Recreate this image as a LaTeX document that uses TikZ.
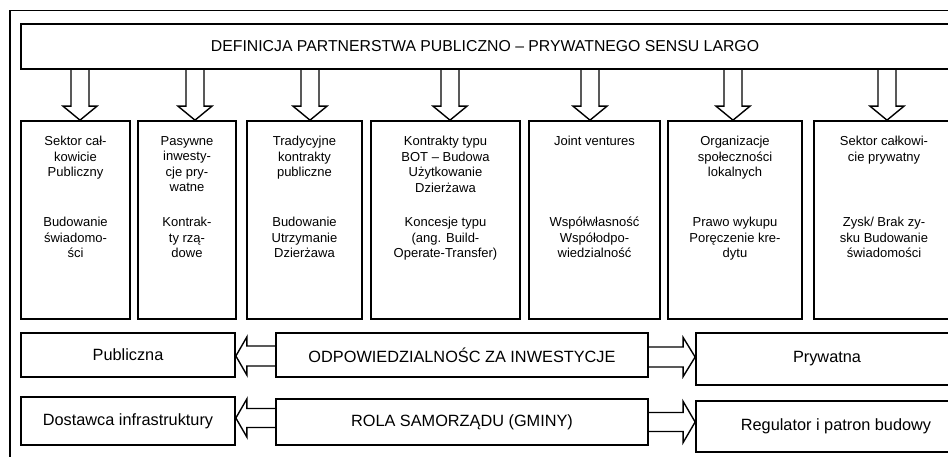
\documentclass[tikz,border=0pt]{standalone}
\usepackage{fontspec}
\setmainfont{Liberation Sans}
\usetikzlibrary{calc,fit}
\tikzset{
  frame/.style={draw, line width=1.2pt},
  tbox/.style={draw, line width=1.7pt, inner sep=0pt},
  btext/.style={align=center, inner sep=0pt, font=\fontsize{13}{15.5}\selectfont},
  ttl/.style={inner sep=0pt, font=\fontsize{15.8}{18}\selectfont},
  rtext/.style={inner sep=0pt, font=\fontsize{16.3}{19}\selectfont},
  barrow/.style={draw, line width=1.4pt, line join=miter},
}
\newcommand\blockarrow[5]{%
  \coordinate (ba-s) at (#4);
  \coordinate (ba-t) at (#5);
  \coordinate (ba-b) at ($(ba-t)!#3pt!(ba-s)$);
  \draw[barrow] ($(ba-s)!#1pt!90:(ba-t)$) -- ($(ba-b)!#1pt!90:(ba-t)$) -- ($(ba-b)!#2pt!90:(ba-t)$) -- (ba-t)
    -- ($(ba-b)!#2pt!-90:(ba-t)$) -- ($(ba-b)!#1pt!-90:(ba-t)$) -- ($(ba-s)!#1pt!-90:(ba-t)$);
}
\begin{document}
\begin{tikzpicture}[x=1pt,y=-1pt]
\useasboundingbox (0,0) rectangle (948,456);
\fill[white] (0,0) rectangle (948,456);
\clip (0,0) rectangle (948,456);

% outer frame
\draw[frame] (10,10.5) rectangle (975,480);

% title box
\node[tbox, fit={(21,24) (949,69)}] (top) {};
\node[ttl] (topt) at (top.center) {DEFINICJA PARTNERSTWA PUBLICZNO – PRYWATNEGO SENSU LARGO};

% tall boxes
\node[tbox, fit={(21,121) (130,319)}] (b1) {};
\node[tbox, fit={(138,121) (236,319)}] (b2) {};
\node[tbox, fit={(247,121) (362,319)}] (b3) {};
\node[tbox, fit={(371,121) (520,319)}] (b4) {};
\node[tbox, fit={(529,121) (660,319)}] (b5) {};
\node[tbox, fit={(668,121) (802,319)}] (b6) {};
\node[tbox, fit={(814,121) (954,319)}] (b7) {};

% texts in tall boxes
\node[btext, anchor=north] (b1a) at ($(b1.north)+(0,16)$) {Sektor cał-\\kowicie\\Publiczny};
\node[btext, anchor=north] (b1b) at ($(b1.north)+(0,97)$) {Budowanie\\świadomo-\\ści};
\node[btext, anchor=north] (b2a) at ($(b2.north)+(0,16)$) {Pasywne\\inwesty-\\cje pry-\\watne};
\node[btext, anchor=north] (b2b) at ($(b2.north)+(0,97)$) {Kontrak-\\ty rzą-\\dowe};
\node[btext, anchor=north] (b3a) at ($(b3.north)+(0,16)$) {Tradycyjne\\kontrakty\\publiczne};
\node[btext, anchor=north] (b3b) at ($(b3.north)+(0,97)$) {Budowanie\\Utrzymanie\\Dzierżawa};
\node[btext, anchor=north] (b4a) at ($(b4.north)+(0,16)$) {Kontrakty typu\\BOT – Budowa\\Użytkowanie\\Dzierżawa};
\node[btext, anchor=north] (b4b) at ($(b4.north)+(0,97)$) {Koncesje typu\\(ang. Build-\\Operate-Transfer)};
\node[btext, anchor=north] (b5a) at ($(b5.north)+(0,16)$) {Joint ventures};
\node[btext, anchor=north] (b5b) at ($(b5.north)+(0,97)$) {Współwłasność\\Współodpo-\\wiedzialność};
\node[btext, anchor=north] (b6a) at ($(b6.north)+(0,16)$) {Organizacje\\społeczności\\lokalnych};
\node[btext, anchor=north] (b6b) at ($(b6.north)+(0,97)$) {Prawo wykupu\\Poręczenie kre-\\dytu};
\node[btext, anchor=north] (b7a) at ($(b7.north)+(0,16)$) {Sektor całkowi-\\cie prywatny};
\node[btext, anchor=north] (b7b) at ($(b7.north)+(0,97)$) {Zysk/ Brak zy-\\sku Budowanie\\świadomości};

% down arrows
\coordinate (ax1) at (80,0);
\coordinate (ax2) at (195,0);
\coordinate (ax3) at (310,0);
\coordinate (ax4) at (450,0);
\coordinate (ax5) at (590,0);
\coordinate (ax6) at (733,0);
\coordinate (ax7) at (887,0);
\blockarrow{9}{17}{14}{top.south -| ax1}{b1.north -| ax1}
\blockarrow{9}{17}{14}{top.south -| ax2}{b2.north -| ax2}
\blockarrow{9}{17}{14}{top.south -| ax3}{b3.north -| ax3}
\blockarrow{9}{17}{14}{top.south -| ax4}{b4.north -| ax4}
\blockarrow{9}{17}{14}{top.south -| ax5}{b5.north -| ax5}
\blockarrow{9}{17}{14}{top.south -| ax6}{b6.north -| ax6}
\blockarrow{9}{17}{14}{top.south -| ax7}{b7.north -| ax7}

% bottom rows
\node[tbox, fit={(21,333) (235,377)}] (l1) {};
\node[tbox, fit={(276,333) (648,377)}] (m1) {};
\node[tbox, fit={(696,333) (958,385)}] (r1) {};
\node[tbox, fit={(21,397) (235,445)}] (l2) {};
\node[tbox, fit={(276,399) (648,445)}] (m2) {};
\node[tbox, fit={(696,401) (976,452)}] (r2) {};
\node[rtext] (l1t) at (l1.center) {Publiczna};
\node[rtext] (m1t) at (m1.center) {ODPOWIEDZIALNOŚC ZA INWESTYCJE};
\node[rtext] (r1t) at (r1.center) {Prywatna};
\node[rtext] (l2t) at (l2.center) {Dostawca infrastruktury};
\node[rtext] (m2t) at (m2.center) {ROLA SAMORZĄDU (GMINY)};
\node[rtext] (r2t) at (r2.center) {Regulator i patron budowy};

\coordinate (ay1l) at (0,356);
\coordinate (ay1r) at (0,357);
\coordinate (ay2l) at (0,418);
\coordinate (ay2r) at (0,422);
\blockarrow{10}{19}{11}{m1.west |- ay1l}{l1.east |- ay1l}
\blockarrow{10}{19.5}{12}{m1.east |- ay1r}{r1.west |- ay1r}
\blockarrow{9.5}{19}{11}{m2.west |- ay2l}{l2.east |- ay2l}
\blockarrow{9.5}{20.5}{12}{m2.east |- ay2r}{r2.west |- ay2r}
\end{tikzpicture}
\end{document}
